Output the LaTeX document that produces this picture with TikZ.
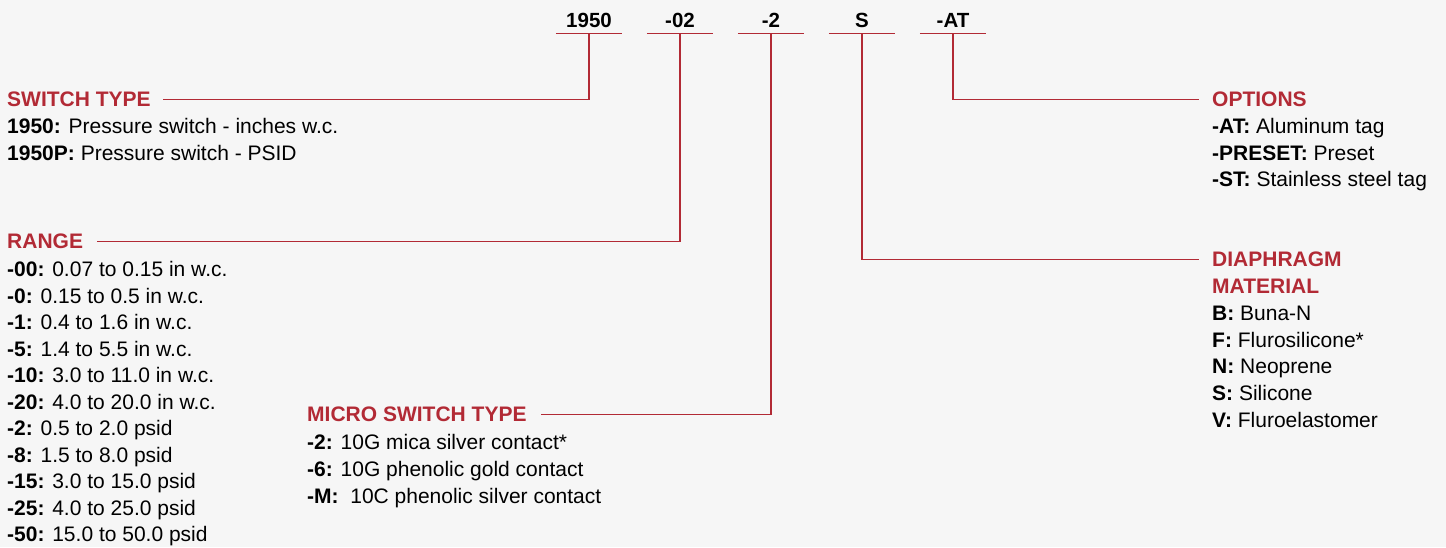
\documentclass[tikz,border=0pt]{standalone}
\usepackage{fontspec}
\setmainfont{Liberation Sans}
\definecolor{accent}{HTML}{B22A35}
\definecolor{bgc}{HTML}{F6F6F6}
\begin{document}
\begin{tikzpicture}[x=1pt,y=-1pt,
  code/.style={font=\fontsize{20.5}{24}\selectfont\bfseries, text=black, minimum width=66pt, inner sep=0pt, anchor=base},
  head/.style={font=\fontsize{21}{24}\selectfont\bfseries, text=accent, inner sep=0pt, anchor=base west},
  item/.style={font=\fontsize{21}{24}\selectfont, text=black, inner sep=0pt, anchor=base west},
  link/.style={draw=accent, line width=1.4pt}]
\fill[bgc] (0,0) rectangle (1446,547);
\useasboundingbox (0,0) rectangle (1446,547);

% code parts
\foreach \t [count=\i] in {1950,-02,-2,S,-AT} {
  \node[code] (c\i) at ({589+91*(\i-1)},27) {\t};
  \coordinate (u\i) at ([yshift=-6pt]c\i.south);
  \draw[link] ([yshift=-6pt]c\i.south west) -- ([yshift=-6pt]c\i.south east);
}

% headings
\node[head] (hsw) at (7,106.5) {SWITCH TYPE};
\node[head] (hrg) at (7,248.5) {RANGE};
\node[head] (hms) at (307,421.5) {MICRO SWITCH TYPE};
\node[head] (hop) at (1212,106.5) {OPTIONS};
\node[head] (hdm) at (1212,266.5) {DIAPHRAGM};
\node[head] (hdm2) at (1212,293.5) {MATERIAL};

% items
\foreach \k/\v [count=\i] in {1950/Pressure switch - inches w.c., 1950P/Pressure switch - PSID}
  \node[item] (sw\i) at (7,{133.5+27*(\i-1)}) {\textbf{\k:} \v};

\foreach \k/\v [count=\i] in {-00/0.07 to 0.15 in w.c., -0/0.15 to 0.5 in w.c., -1/0.4 to 1.6 in w.c., -5/1.4 to 5.5 in w.c., -10/3.0 to 11.0 in w.c., -20/4.0 to 20.0 in w.c., -2/0.5 to 2.0 psid, -8/1.5 to 8.0 psid, -15/3.0 to 15.0 psid, -25/4.0 to 25.0 psid, -50/15.0 to 50.0 psid}
  \node[item] (rg\i) at (7,{276.5+26.5*(\i-1)}) {\textbf{\k:} \v};

\foreach \k/\v [count=\i] in {-2/10G mica silver contact*, -6/10G phenolic gold contact, -M/ 10C phenolic silver contact}
  \node[item] (ms\i) at (307,{449.5+26.8*(\i-1)}) {\textbf{\k:} \v};

\foreach \k/\v [count=\i] in {-AT/Aluminum tag, -PRESET/Preset, -ST/Stainless steel tag}
  \node[item] (op\i) at (1212,{133.5+26.5*(\i-1)}) {\textbf{\k:} \v};

\foreach \k/\v [count=\i] in {B/Buna-N, F/Flurosilicone*, N/Neoprene, S/Silicone, V/Fluroelastomer}
  \node[item] (dm\i) at (1212,{320.5+26.7*(\i-1)}) {\textbf{\k:} \v};

% connectors
\draw[link] (u1) |- ([xshift=12pt]hsw.east);
\draw[link] (u2) |- ([xshift=14pt]hrg.east);
\draw[link] (u3) |- ([xshift=14pt]hms.east);
\draw[link] (u4) |- ([xshift=-13pt]hdm.west);
\draw[link] (u5) |- ([xshift=-13pt]hop.west);
\end{tikzpicture}
\end{document}
